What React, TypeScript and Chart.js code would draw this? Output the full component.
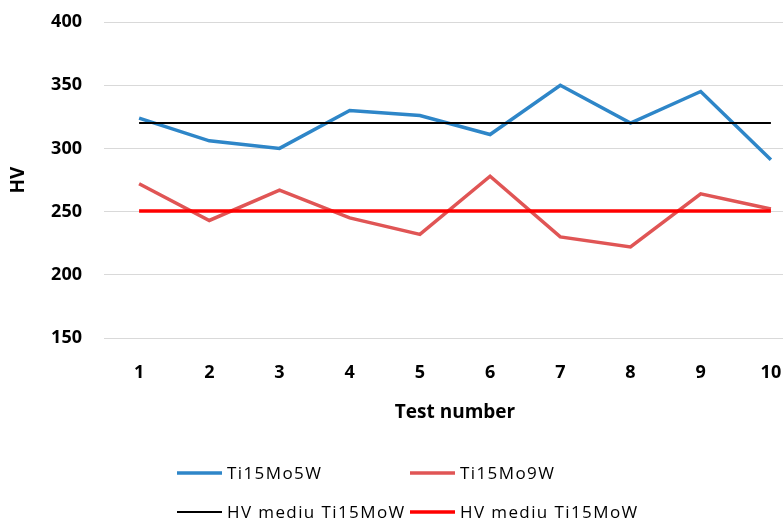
import { useEffect, useRef } from "react";
import { Chart, registerables } from "chart.js";

Chart.register(...registerables);

const categories = ["1", "2", "3", "4", "5", "6", "7", "8", "9", "10"];
const ti15Mo5W = [324, 306, 300, 330, 326, 311, 350, 320, 345, 291];
const ti15Mo9W = [272, 243, 267, 245, 232, 278, 230, 222, 264, 252];
const meanTi15Mo5W = [320, 320, 320, 320, 320, 320, 320, 320, 320, 320];
const meanTi15Mo9W = [250.5, 250.5, 250.5, 250.5, 250.5, 250.5, 250.5, 250.5, 250.5, 250.5];
const seriesLabels = ["Ti15Mo5W", "Ti15Mo9W", "HV mediu Ti15MoW", "HV mediu Ti15MoW"];
const yMin = 150;
const yMax = 400;
const yStep = 50;

const FONT = '"Open Sans", "DejaVu Sans", sans-serif';

const gridLegend = {
  id: "gridLegend",
  afterDraw(chart: any) {
    const ctx = chart.ctx;
    const cols = [177, 410];
    const rows = [473, 512];
    const lineLen = 45;
    ctx.save();
    ctx.font = `17px ${FONT}`;
    (ctx as any).letterSpacing = "1.4px";
    ctx.textBaseline = "middle";
    ctx.textAlign = "left";
    chart.data.datasets.forEach((ds: any, i: number) => {
      const x = cols[i % 2];
      const y = rows[Math.floor(i / 2)];
      ctx.beginPath();
      ctx.strokeStyle = ds.borderColor;
      ctx.lineWidth = ds.borderWidth;
      ctx.moveTo(x, y);
      ctx.lineTo(x + lineLen, y);
      ctx.stroke();
      ctx.fillStyle = "#000";
      ctx.fillText(ds.label, x + lineLen + 5, y + 1);
    });
    ctx.restore();
  },
};

export default function App() {
  const ref = useRef<HTMLCanvasElement | null>(null);
  useEffect(() => {
    if (!ref.current) return;
    const chart = new Chart(ref.current, {
      type: "line",
      data: {
        labels: categories,
        datasets: [
          { label: seriesLabels[0], data: ti15Mo5W, borderColor: "#2E86C8", backgroundColor: "#2E86C8", borderWidth: 3.5, pointRadius: 0, order: 2 },
          { label: seriesLabels[1], data: ti15Mo9W, borderColor: "#E05555", backgroundColor: "#E05555", borderWidth: 3.5, pointRadius: 0, order: 2 },
          { label: seriesLabels[2], data: meanTi15Mo5W, borderColor: "#000000", backgroundColor: "#000000", borderWidth: 2, pointRadius: 0, order: 1 },
          { label: seriesLabels[3], data: meanTi15Mo9W, borderColor: "#FF0000", backgroundColor: "#FF0000", borderWidth: 3.5, pointRadius: 0, order: 1 },
        ],
      },
      options: {
        responsive: false,
        animation: false,
        layout: { padding: { left: 0, top: 22, right: 24, bottom: 98 } },
        plugins: { legend: { display: false }, tooltip: { enabled: false } },
        scales: {
          x: {
            offset: true,
            grid: { display: false, drawTicks: false },
            border: { display: false },
            ticks: { color: "#000", padding: 24, font: { family: FONT, size: 18, weight: "bold" } },
            title: { display: true, text: "Test number", color: "#000", padding: { top: 0, bottom: 0 }, font: { family: FONT, size: 19, weight: "bold" } },
            afterFit: (axis: any) => { axis.height = 86; },
          },
          y: {
            min: yMin,
            max: yMax,
            grid: { color: "#D9D9D9", lineWidth: 1, drawTicks: false },
            border: { display: false },
            ticks: { stepSize: yStep, color: "#000", padding: 22, font: { family: FONT, size: 18, weight: "bold" } },
            title: { display: true, text: "HV", color: "#000", padding: { top: 7, bottom: 0 }, font: { family: FONT, size: 19, weight: "bold" } },
            afterFit: (axis: any) => { axis.width = 104; axis.paddingTop = 0; axis.paddingBottom = 0; },
          },
        },
      },
      plugins: [gridLegend],
    });
    return () => chart.destroy();
  }, []);
  return (
    <div style={{ position: "fixed", left: 0, top: 0, width: 783, height: 522, overflow: "hidden", background: "#fff" }}>
      <canvas ref={ref} width={830} height={522} style={{ width: 830, height: 522, display: "block" }} />
    </div>
  );
}
